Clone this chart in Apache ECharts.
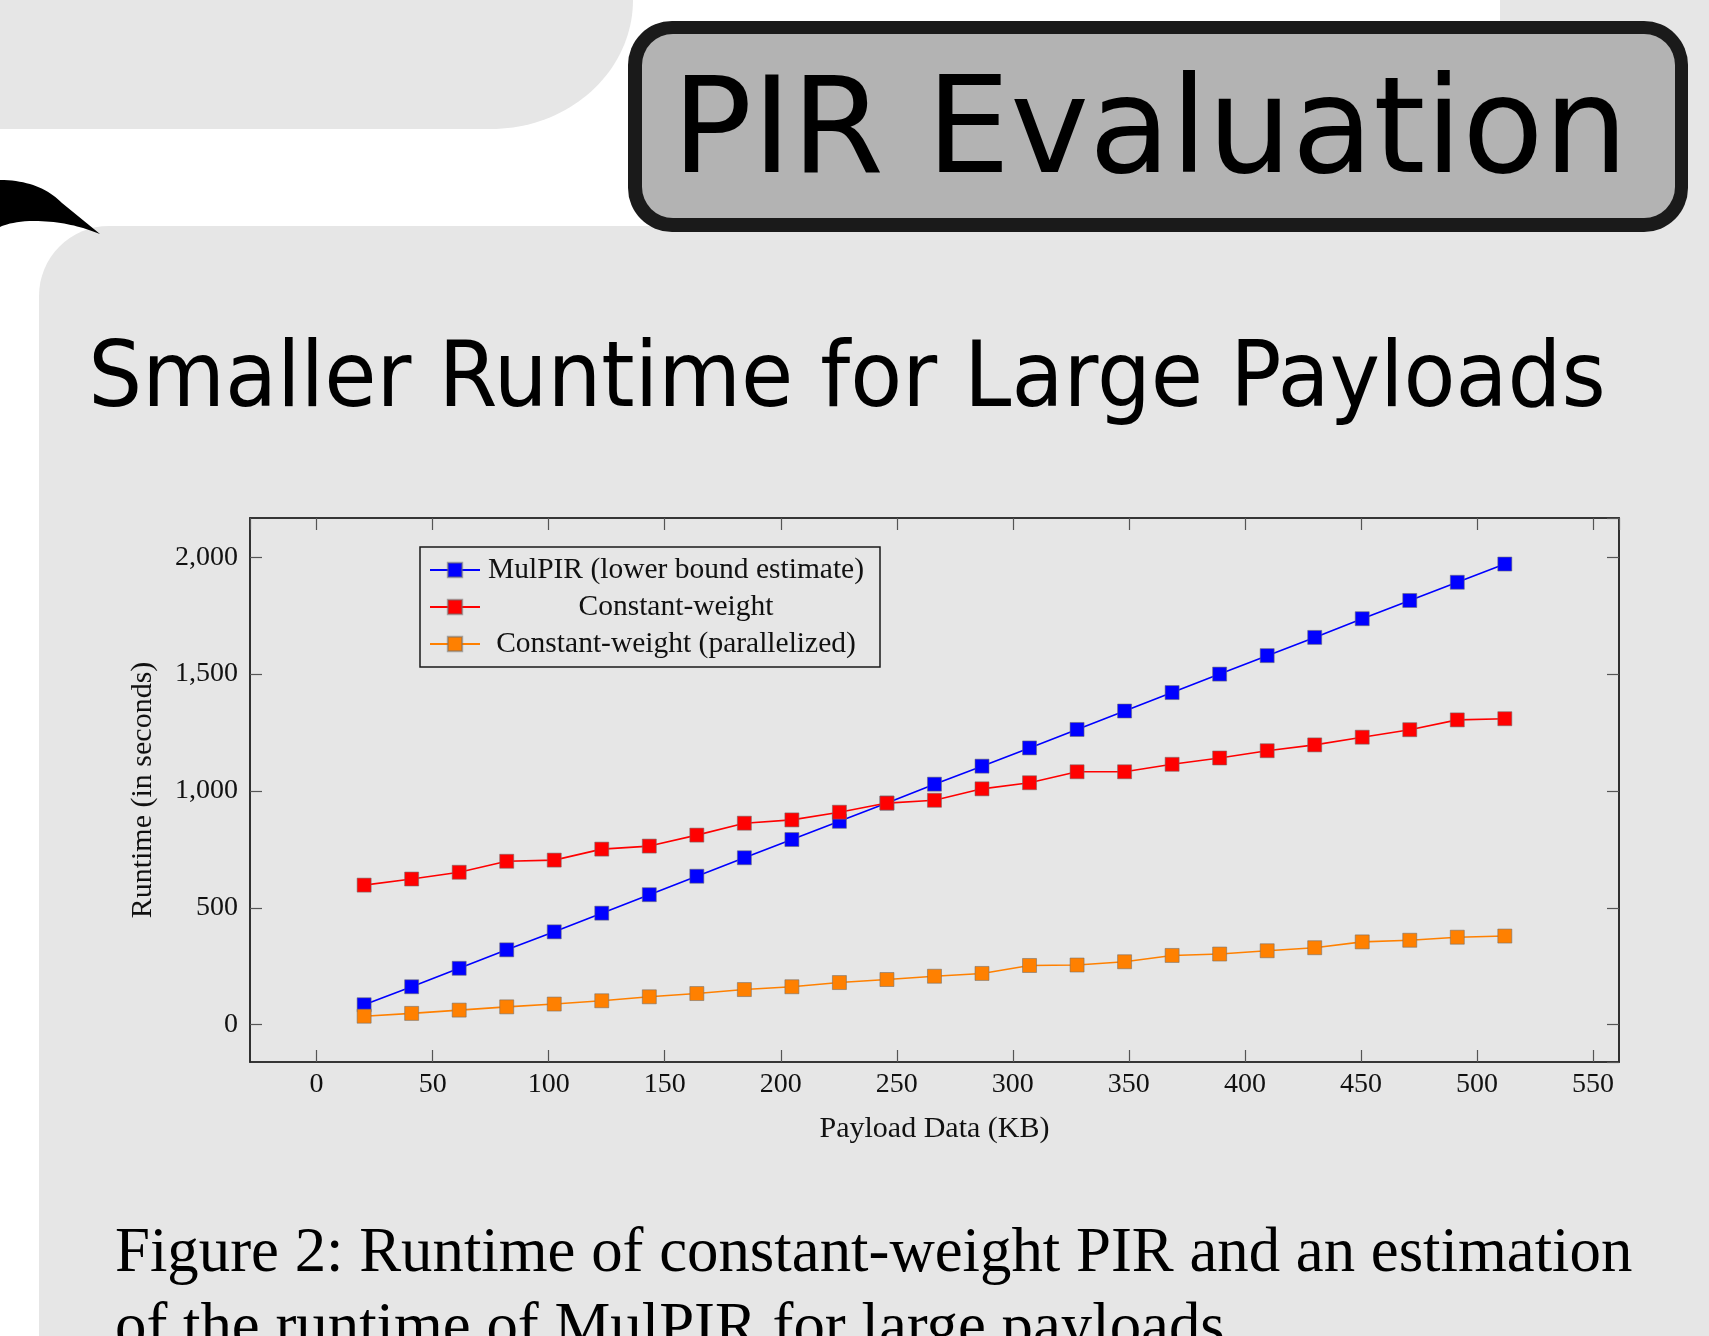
<!DOCTYPE html>
<html>
<head>
<meta charset="utf-8">
<script src="https://cdn.jsdelivr.net/npm/echarts@6/dist/echarts.min.js"></script>
<style>
html, body { margin: 0; padding: 0; background: #ffffff; overflow: hidden; }
#chart { width: 1709px; height: 1336px; }
</style>
</head>
<body>
<div id="chart"></div>
<script>
// ---- Data ----
const payloadKB = [20.48, 40.96, 61.44, 81.92, 102.4, 122.88, 143.36, 163.84, 184.32, 204.8,
  225.28, 245.76, 266.24, 286.72, 307.2, 327.68, 348.16, 368.64, 389.12, 409.6,
  430.08, 450.56, 471.04, 491.52, 512];
const mulpirRuntime = [85, 162, 241, 320, 397, 477, 556, 635, 714, 792,
  870, 948, 1029, 1106, 1184, 1263, 1342, 1421, 1500, 1579,
  1657, 1737, 1815, 1893, 1971];
const constantWeightRuntime = [597, 623, 652, 699, 704, 751, 764, 811, 862, 876,
  909, 948, 960, 1009, 1035, 1082, 1082, 1114, 1141, 1172,
  1197, 1230, 1262, 1304, 1309];
const parallelRuntime = [36, 48, 62, 76, 88, 102, 119, 133, 150, 162,
  180, 193, 207, 219, 253, 255, 269, 296, 302, 316,
  329, 354, 361, 374, 379];

const seriesNames = ['MulPIR (lower bound estimate)', 'Constant-weight', 'Constant-weight (parallelized)'];
const seriesColors = ['#0000ff', '#ff0000', '#ff8000'];
const slideTitle = 'PIR Evaluation';
const slideSubtitle = 'Smaller Runtime for Large Payloads';
const captionLines = ['Figure 2: Runtime of constant-weight PIR and an estimation',
  'of the runtime of MulPIR for large payloads'];
const xAxisTitle = 'Payload Data (KB)';
const yAxisTitle = 'Runtime (in seconds)';

// ---- Styling ----
const SERIF = '"Liberation Serif", "Times New Roman", serif';
const SANS = '"DejaVu Sans", sans-serif';
const PANEL = '#e6e6e6';
const AXIS = '#2a2a2a';

function pairs(values) { return payloadKB.map((x, i) => [x, values[i]]); }

// decorative geometry helpers
function ellipseArc(cx, cy, rx, ry, a0, a1, n) {
  const pts = [];
  for (let i = 0; i <= n; i++) {
    const a = a0 + (a1 - a0) * i / n;
    pts.push([cx + rx * Math.cos(a), cy + ry * Math.sin(a)]);
  }
  return pts;
}
function cubic(p0, p1, p2, p3, n) {
  const pts = [];
  for (let i = 0; i <= n; i++) {
    const t = i / n, u = 1 - t;
    pts.push([
      u*u*u*p0[0] + 3*u*u*t*p1[0] + 3*u*t*t*p2[0] + t*t*t*p3[0],
      u*u*u*p0[1] + 3*u*u*t*p1[1] + 3*u*t*t*p2[1] + t*t*t*p3[1]
    ]);
  }
  return pts;
}
const topLeftShape = [[0, 0]].concat(ellipseArc(491, 0, 142, 129, 0, Math.PI / 2, 40)).concat([[0, 129]]);
const swooshShape = []
  .concat(cubic([0, 180], [28, 180], [48, 189], [62, 203], 20))
  .concat([[100, 234]])
  .concat(cubic([100, 234], [82, 227], [62, 221], [34, 221], 20))
  .concat(cubic([34, 221], [18, 221], [6, 224], [0, 227], 10));

const xRange = { min: -28.7, max: 561.2 };
const yRange = { min: -160, max: 2168 };

function makeSeries(i, values) {
  return {
    type: 'line', name: seriesNames[i], data: pairs(values),
    symbol: 'rect', symbolSize: 14, color: seriesColors[i],
    lineStyle: { width: 1.6, color: seriesColors[i] },
    itemStyle: { color: seriesColors[i], borderColor: 'rgba(110,110,110,0.55)', borderWidth: 1 },
    emphasis: { disabled: true }, animation: false, z: 3 + i
  };
}

const commonTick = { show: true, inside: true, length: 12, lineStyle: { color: '#555', width: 1.2 } };
const commonLine = { show: true, onZero: false, lineStyle: { color: AXIS, width: 1.6 } };

const chart = echarts.init(document.getElementById('chart'), null, { renderer: 'canvas' });

const option = {
  backgroundColor: '#ffffff',
  animation: false,
  graphic: [
    { type: 'polygon', z: -10, shape: { points: topLeftShape }, style: { fill: PANEL } },
    { type: 'rect', z: -10, shape: { x: 1500, y: 0, width: 209, height: 240 }, style: { fill: PANEL } },
    { type: 'rect', z: -10, shape: { x: 39, y: 226, width: 1670, height: 1110, r: [70, 0, 0, 0] }, style: { fill: PANEL } },
    { type: 'polygon', z: -9, shape: { points: swooshShape }, style: { fill: '#000000' } },
    { type: 'rect', z: -8, shape: { x: 628, y: 21, width: 1060, height: 211, r: 44 }, style: { fill: '#1a1a1a' } },
    { type: 'rect', z: -7, shape: { x: 642, y: 34, width: 1033, height: 184, r: 31 }, style: { fill: '#b3b3b3' } },
    { type: 'text', z: -6, x: 1150, y: 137, style: { text: slideTitle, fill: '#000', font: '133px ' + SANS, align: 'center', verticalAlign: 'middle' } },
    { type: 'text', z: -6, x: 847, y: 383, scaleX: 0.944, style: { text: slideSubtitle, fill: '#000', font: '90px ' + SANS, align: 'center', verticalAlign: 'middle' } },
    { type: 'text', z: -6, x: 115, y: 1255, style: { text: captionLines[0], fill: '#000', font: '62.8px ' + SERIF, align: 'left', verticalAlign: 'middle' } },
    { type: 'text', z: -6, x: 115, y: 1330, style: { text: captionLines[1], fill: '#000', font: '62.8px ' + SERIF, align: 'left', verticalAlign: 'middle' } }
  ],
  grid: { left: 250, right: 90, top: 518, bottom: 274, show: true, borderColor: AXIS, borderWidth: 1.6, backgroundColor: 'transparent', containLabel: false },
  legend: {
    orient: 'vertical', left: 420, top: 547,
    padding: [8, 13, 8, 9], itemGap: 7, itemWidth: 50, itemHeight: 18,
    borderColor: '#1a1a1a', borderWidth: 1.5, backgroundColor: 'transparent',
    data: seriesNames,
    formatter: name => '{c|' + name + '}',
    textStyle: { rich: { c: { width: 382, align: 'center', fontFamily: SERIF, fontSize: 29.5, lineHeight: 36, color: '#111' } } }
  },
  xAxis: [
    { type: 'value', position: 'bottom', min: xRange.min, max: xRange.max, splitNumber: 12,
      axisLine: commonLine, axisTick: commonTick, splitLine: { show: false },
      axisLabel: { show: true, showMinLabel: false, showMaxLabel: false, margin: 9, fontFamily: SERIF, fontSize: 28, color: '#111' },
      name: xAxisTitle, nameLocation: 'middle', nameGap: 52, nameTextStyle: { fontFamily: SERIF, fontSize: 30, color: '#111' } },
    { type: 'value', position: 'top', min: xRange.min, max: xRange.max, splitNumber: 12,
      axisLine: commonLine, axisTick: commonTick, splitLine: { show: false }, axisLabel: { show: false } }
  ],
  yAxis: [
    { type: 'value', position: 'left', min: yRange.min, max: yRange.max, splitNumber: 5,
      axisLine: commonLine, axisTick: commonTick, splitLine: { show: false },
      axisLabel: { show: true, showMinLabel: false, showMaxLabel: false, margin: 12, fontFamily: SERIF, fontSize: 28, color: '#111',
        formatter: v => Math.round(v).toLocaleString('en-US') },
      name: yAxisTitle, nameLocation: 'middle', nameGap: 92, nameTextStyle: { fontFamily: SERIF, fontSize: 30, color: '#111' } },
    { type: 'value', position: 'right', min: yRange.min, max: yRange.max, splitNumber: 5,
      axisLine: commonLine, axisTick: commonTick, splitLine: { show: false }, axisLabel: { show: false } }
  ],
  series: [
    makeSeries(0, mulpirRuntime),
    makeSeries(1, constantWeightRuntime),
    makeSeries(2, parallelRuntime)
  ]
};

chart.setOption(option);
</script>
</body>
</html>
